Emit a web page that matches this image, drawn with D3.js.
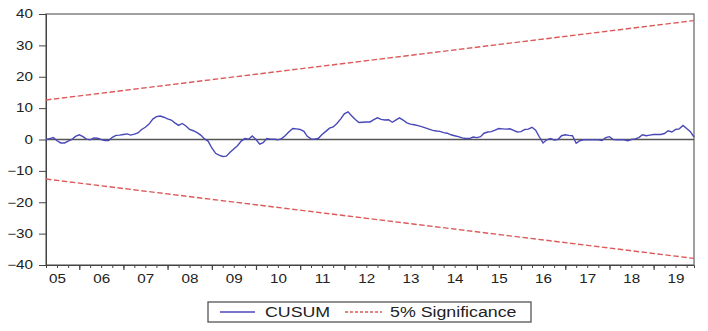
<!DOCTYPE html>
<html>
<head>
<meta charset="utf-8">
<script src="https://cdn.jsdelivr.net/npm/d3@7"></script>
<style>
    body { margin: 0; background: #fff; }
    text { font-family: "Liberation Sans", Arial, sans-serif; fill: #222; }
</style>
</head>
<body>
<div id="chart"></div>
<script>
// monthly CUSUM, first value is 2005M04, last is 2019M12
let firstMonth = new Date(2005, 3, 1)
let lastMonth = new Date(2019, 11, 1)

let cusum = [
    0.0, 0.3, 0.6, -0.4, -1.1, -1.1, -0.5, 0.0, 1.0,                 // 2005
    1.5, 0.9, 0.1, -0.1, 0.5, 0.4, 0.0, -0.3, -0.3, 0.7, 1.3, 1.4,   // 2006
    1.6, 1.8, 1.4, 1.7, 2.1, 3.2, 3.9, 4.9, 6.5, 7.3, 7.5, 7.1,      // 2007
    6.6, 6.2, 5.3, 4.5, 5.1, 4.3, 3.2, 2.8, 2.2, 1.4, 0.2, -0.5,     // 2008
    -2.7, -4.4, -5.0, -5.4, -5.3, -4.1, -3.0, -2.0, -0.5, 0.3, 0.1, 1.1, // 2009
    0.0, -1.5, -1.0, 0.3, 0.1, 0.1, -0.1, 0.3, 1.3, 2.5, 3.5, 3.4,   // 2010
    3.2, 2.6, 1.0, 0.2, 0.1, 0.4, 1.6, 2.6, 3.6, 4.0, 5.1, 6.5,      // 2011
    8.2, 8.8, 7.6, 6.4, 5.4, 5.5, 5.6, 5.6, 6.3, 6.9, 6.4, 6.2,      // 2012
    6.3, 5.5, 6.2, 6.9, 6.2, 5.3, 4.9, 4.7, 4.4, 4.1, 3.7, 3.3,      // 2013
    2.9, 2.7, 2.6, 2.2, 2.0, 1.5, 1.2, 0.9, 0.5, 0.3, 0.3, 0.8,      // 2014
    0.6, 0.9, 2.0, 2.4, 2.5, 3.0, 3.5, 3.4, 3.3, 3.4, 2.9, 2.4,      // 2015
    2.5, 3.2, 3.3, 3.9, 3.0, 0.8, -1.1, -0.1, 0.3, -0.2, 0.0, 1.2,   // 2016
    1.5, 1.3, 1.2, -1.2, -0.4, -0.1, -0.1, -0.1, -0.1, -0.1, -0.3, 0.6, // 2017
    0.9, 0.0, -0.1, -0.1, -0.1, -0.4, 0.0, 0.2, 0.6, 1.5, 1.2, 1.4,  // 2018
    1.6, 1.6, 1.6, 1.9, 2.8, 2.4, 3.2, 3.4, 4.5, 3.5, 2.5, 0.8       // 2019
]

// 5% significance bounds, at first and last month
let upperBound = [12.6, 37.9]
let lowerBound = [-12.6, -37.9]

let yTicks = [-40, -30, -20, -10, 0, 10, 20, 30, 40]
let yearLabels = ["05", "06", "07", "08", "09", "10", "11", "12", "13", "14", "15", "16", "17", "18", "19"]
let legendNames = ["CUSUM", "5% Significance"]

let width = 708, height = 331
let margin = {top: 14, right: 14, bottom: 66, left: 46}
let innerW = width - margin.left - margin.right
let innerH = height - margin.top - margin.bottom
let stretch = 1.27   // text in the picture is drawn wide

let svg = d3.select("#chart").append("svg")
    .attr("width", width)
    .attr("height", height)

let g = svg.append("g")
    .attr("transform", `translate(${margin.left},${margin.top})`)

let x = d3.scaleTime().domain([firstMonth, lastMonth]).range([0, innerW])
let y = d3.scaleLinear().domain([-40, 40]).range([innerH, 0])

let months = cusum.map((v, i) => ({date: d3.timeMonth.offset(firstMonth, i), value: v}))

// frame
g.append("rect")
    .attr("width", innerW)
    .attr("height", innerH)
    .attr("fill", "none")
    .attr("stroke", "#6e6e6e")
    .attr("stroke-width", 1.3)

// zero line
g.append("line")
    .attr("x1", 0).attr("x2", innerW)
    .attr("y1", y(0)).attr("y2", y(0))
    .attr("stroke", "#555")
    .attr("stroke-width", 1.3)

// y axis
let yAxis = g.append("g")
    .call(d3.axisLeft(y).tickValues(yTicks).tickSize(7).tickPadding(5))
yAxis.select(".domain").attr("stroke", "#444")
yAxis.selectAll(".tick line").attr("stroke", "#444")
yAxis.selectAll("text")
    .attr("font-size", 12)
    .attr("fill", "#222")
    .attr("x", -13 / stretch)
    .attr("transform", `scale(${stretch},1)`)

// x axis: quarter ticks, longer ticks at years, labels mid-year
let xAxisG = g.append("g").attr("transform", `translate(0,${innerH})`)
xAxisG.call(d3.axisBottom(x).ticks(d3.timeMonth.every(3)).tickSize(3).tickFormat(""))
xAxisG.select(".domain").attr("stroke", "#444")
xAxisG.selectAll(".tick line").attr("stroke", "#444")

let xMajor = g.append("g").attr("transform", `translate(0,${innerH})`)
    .call(d3.axisBottom(x).ticks(d3.timeYear.every(1)).tickSize(5).tickFormat(""))
xMajor.select(".domain").remove()
xMajor.selectAll(".tick line").attr("stroke", "#444").attr("stroke-width", 1.2)

let midYears = yearLabels.map((lab, i) => new Date(2005 + i, 6, 1))
let xLabels = g.append("g").attr("transform", `translate(0,${innerH})`)
    .call(d3.axisBottom(x).tickValues(midYears).tickSize(0).tickPadding(9)
        .tickFormat((d, i) => yearLabels[i]))
xLabels.select(".domain").remove()
xLabels.selectAll("text")
    .attr("font-size", 12)
    .attr("fill", "#222")
    .attr("transform", `scale(${stretch},1)`)

// significance bounds
let sigLine = d3.line()
    .x(d => x(d.date))
    .y(d => y(d.value))

let ends = [firstMonth, lastMonth]
;[upperBound, lowerBound].forEach(b => {
    g.append("path")
        .datum(ends.map((d, i) => ({date: d, value: b[i]})))
        .attr("fill", "none")
        .attr("stroke", "#dc5a5a")
        .attr("stroke-width", 1.4)
        .attr("stroke-dasharray", "5.5,2.5")
        .attr("d", sigLine)
})

// CUSUM
g.append("path")
    .datum(months)
    .attr("fill", "none")
    .attr("stroke", "#4848b8")
    .attr("stroke-width", 1.4)
    .attr("d", d3.line().x(d => x(d.date)).y(d => y(d.value)))

// legend
let legend = svg.append("g").attr("transform", "translate(208,302)")
legend.append("rect")
    .attr("width", 323).attr("height", 20)
    .attr("fill", "#fff")
    .attr("stroke", "#555")
    .attr("stroke-width", 1.3)

legend.append("line")
    .attr("x1", 12).attr("x2", 47).attr("y1", 10).attr("y2", 10)
    .attr("stroke", "#4848b8").attr("stroke-width", 1.3)
legend.append("text")
    .attr("transform", `translate(57,15) scale(${stretch},1)`)
    .attr("font-size", 14)
    .text(legendNames[0])

legend.append("line")
    .attr("x1", 137).attr("x2", 174).attr("y1", 10).attr("y2", 10)
    .attr("stroke", "#dc5a5a").attr("stroke-width", 1.3)
    .attr("stroke-dasharray", "3,2")
legend.append("text")
    .attr("transform", `translate(182,15) scale(${stretch},1)`)
    .attr("font-size", 14)
    .text(legendNames[1])
</script>
</body>
</html>
